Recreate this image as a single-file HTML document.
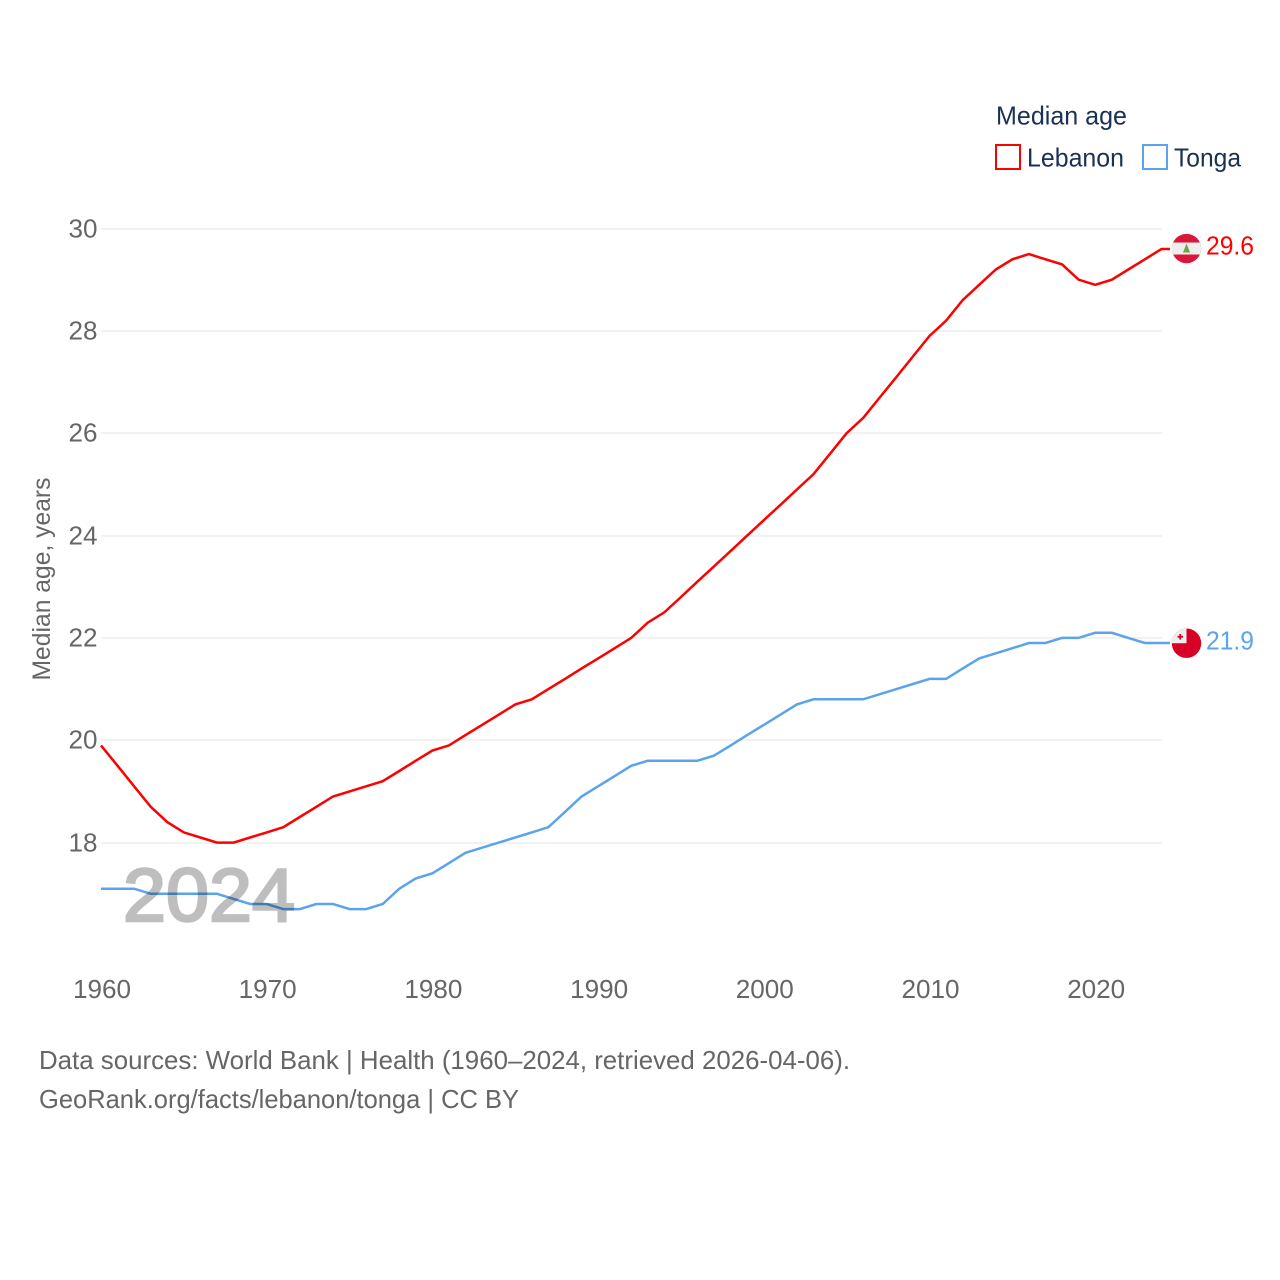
<!DOCTYPE html>
<html lang="en">
<head>
<meta charset="utf-8">
<title>Median age: Lebanon and Tonga</title>
<style>
html,body{margin:0;padding:0;background:#fff;width:1280px;height:1280px;overflow:hidden}
svg{display:block}
text{font-family:"Liberation Sans",sans-serif}
</style>
</head>
<body>
<svg id="chart" xmlns="http://www.w3.org/2000/svg" width="1280" height="1280" viewBox="0 0 1280 1280">
  <g id="grid"></g>
  <g id="yticks"></g>
  <g id="xticks"></g>
  <g id="series"></g>
  <text x="123" y="921" font-size="75" font-weight="400" fill="#000" stroke="#000" stroke-width="2.6" opacity="0.25" textLength="172" lengthAdjust="spacingAndGlyphs">2024</text>
  <text transform="translate(50,579) rotate(-90)" text-anchor="middle" font-size="25" fill="#666" textLength="203" lengthAdjust="spacingAndGlyphs">Median age, years</text>

  <g>
    <text x="996" y="124.5" font-size="26" fill="#1b3153" textLength="131" lengthAdjust="spacingAndGlyphs">Median age</text>
    <g>
      <rect x="996" y="145" width="24" height="24" fill="none" stroke="#ff0000" stroke-width="2"/>
      <text x="1027" y="166.5" font-size="26" fill="#1b3153" textLength="97" lengthAdjust="spacingAndGlyphs">Lebanon</text>
    </g>
    <g>
      <rect x="1143" y="145" width="24" height="24" fill="none" stroke="#5ba4ec" stroke-width="2"/>
      <text x="1174" y="166.5" font-size="26" fill="#1b3153" textLength="67" lengthAdjust="spacingAndGlyphs">Tonga</text>
    </g>
  </g>

  <defs>
    <clipPath id="lb-clip"><circle cx="0" cy="0" r="14.7"/></clipPath>
    <clipPath id="to-clip"><circle cx="0" cy="0" r="14.7"/></clipPath>
  </defs>
  <g id="flag-lebanon">
    <g clip-path="url(#lb-clip)">
      <rect x="-15" y="-15" width="30" height="30" fill="#d8173a"/>
      <rect x="-15" y="-6" width="30" height="12" fill="#eeeeee"/>
      <polygon points="0,-5 3.5,4 -3.5,4" fill="#6da544"/>
    </g>
  </g>
  <g id="flag-tonga">
    <g clip-path="url(#to-clip)">
      <rect x="-15" y="-15" width="30" height="30" fill="#d80027"/>
      <rect x="-15" y="-15" width="15" height="15" fill="#eeeeee"/>
      <rect x="-9" y="-7.4" width="5.5" height="1.8" fill="#d80027"/>
      <rect x="-7.2" y="-9.2" width="1.8" height="5.5" fill="#d80027"/>
    </g>
  </g>
  <text id="value-lebanon" x="1206" font-size="26" fill="#ff0000" textLength="48" lengthAdjust="spacingAndGlyphs"></text>
  <text id="value-tonga" x="1206" font-size="26" fill="#5ba4ec" textLength="48" lengthAdjust="spacingAndGlyphs"></text>

  <g>
    <text x="39" y="1069" font-size="26" fill="#666" textLength="811" lengthAdjust="spacingAndGlyphs">Data sources: World Bank | Health (1960–2024, retrieved 2026-04-06).</text>
    <text x="39" y="1108" font-size="26" fill="#666" textLength="480" lengthAdjust="spacingAndGlyphs">GeoRank.org/facts/lebanon/tonga | CC BY</text>
  </g>
</svg>
<script>
const startYear = 1960;
const xTickLabels = ['1960', '1970', '1980', '1990', '2000', '2010', '2020'];
const yTickLabels = ['18', '20', '22', '24', '26', '28', '30'];
const lebanon = [19.9, 19.5, 19.1, 18.7, 18.4, 18.2, 18.1, 18.0, 18.0, 18.1, 18.2, 18.3, 18.5, 18.7, 18.9, 19.0, 19.1, 19.2, 19.4, 19.6, 19.8, 19.9, 20.1, 20.3, 20.5, 20.7, 20.8, 21.0, 21.2, 21.4, 21.6, 21.8, 22.0, 22.3, 22.5, 22.8, 23.1, 23.4, 23.7, 24.0, 24.3, 24.6, 24.9, 25.2, 25.6, 26.0, 26.3, 26.7, 27.1, 27.5, 27.9, 28.2, 28.6, 28.9, 29.2, 29.4, 29.5, 29.4, 29.3, 29.0, 28.9, 29.0, 29.2, 29.4, 29.6];
const tonga = [17.1, 17.1, 17.1, 17.0, 17.0, 17.0, 17.0, 17.0, 16.9, 16.8, 16.8, 16.7, 16.7, 16.8, 16.8, 16.7, 16.7, 16.8, 17.1, 17.3, 17.4, 17.6, 17.8, 17.9, 18.0, 18.1, 18.2, 18.3, 18.6, 18.9, 19.1, 19.3, 19.5, 19.6, 19.6, 19.6, 19.6, 19.7, 19.9, 20.1, 20.3, 20.5, 20.7, 20.8, 20.8, 20.8, 20.8, 20.9, 21.0, 21.1, 21.2, 21.2, 21.4, 21.6, 21.7, 21.8, 21.9, 21.9, 22.0, 22.0, 22.1, 22.1, 22.0, 21.9, 21.9];

const NS = 'http://www.w3.org/2000/svg';
function xScale(year) { return 101 + (year - 1960) * 16.57; }
function yScale(v) { return 842.6 - (v - 18) * 51.17; }
function make(tag, parent) {
  const el = document.createElementNS(NS, tag);
  parent.appendChild(el);
  return el;
}

const grid = document.getElementById('grid');
const yticks = document.getElementById('yticks');
const xticks = document.getElementById('xticks');
const series = document.getElementById('series');

yTickLabels.forEach(function (label) {
  const y = Math.round(yScale(Number(label)));
  const line = make('line', grid);
  
  
  line.setAttribute('x1', 101);
  line.setAttribute('x2', 1162);
  line.setAttribute('y1', y);
  line.setAttribute('y2', y);
  line.setAttribute('stroke', '#e6e6e6');
  line.setAttribute('stroke-width', 1);
  const t = make('text', yticks);
  
  
  t.setAttribute('x', 97.5);
  t.setAttribute('y', y + 8.5);
  t.setAttribute('text-anchor', 'end');
  t.setAttribute('font-size', 26);
  t.setAttribute('fill', '#666');
  t.setAttribute('textLength', 29);
  t.setAttribute('lengthAdjust', 'spacingAndGlyphs');
  t.textContent = label;
});

xTickLabels.forEach(function (label) {
  const t = make('text', xticks);
  
  
  t.setAttribute('x', xScale(Number(label)) + 1);
  t.setAttribute('y', 998);
  t.setAttribute('text-anchor', 'middle');
  t.setAttribute('font-size', 26);
  t.setAttribute('fill', '#666');
  t.setAttribute('textLength', 58);
  t.setAttribute('lengthAdjust', 'spacingAndGlyphs');
  t.textContent = label;
});

function pointsFor(values) {
  const pts = values.map(function (v, i) {
    return xScale(startYear + i).toFixed(1) + ',' + yScale(v).toFixed(1);
  });
  pts.push('1170,' + yScale(values[values.length - 1]).toFixed(1));
  return pts.join(' ');
}

const lebanonLine = make('polyline', series);


lebanonLine.setAttribute('points', pointsFor(lebanon));
lebanonLine.setAttribute('fill', 'none');
lebanonLine.setAttribute('stroke', '#ff0000');
lebanonLine.setAttribute('stroke-width', 2.5);

const tongaLine = make('polyline', series);


tongaLine.setAttribute('points', pointsFor(tonga));
tongaLine.setAttribute('fill', 'none');
tongaLine.setAttribute('stroke', '#5ba4ec');
tongaLine.setAttribute('stroke-width', 2.5);

const lastLebanon = lebanon[lebanon.length - 1];
const lastTonga = tonga[tonga.length - 1];
document.getElementById('flag-lebanon').setAttribute('transform', 'translate(1186.5,' + (yScale(lastLebanon) - 0.5) + ')');
document.getElementById('flag-tonga').setAttribute('transform', 'translate(1186.5,' + (yScale(lastTonga) + 0.2) + ')');
const valueLebanon = document.getElementById('value-lebanon');
valueLebanon.setAttribute('y', yScale(lastLebanon) + 5.5);
valueLebanon.textContent = lastLebanon.toFixed(1);
const valueTonga = document.getElementById('value-tonga');
valueTonga.setAttribute('y', yScale(lastTonga) + 6.5);
valueTonga.textContent = lastTonga.toFixed(1);
</script>
</body>
</html>
